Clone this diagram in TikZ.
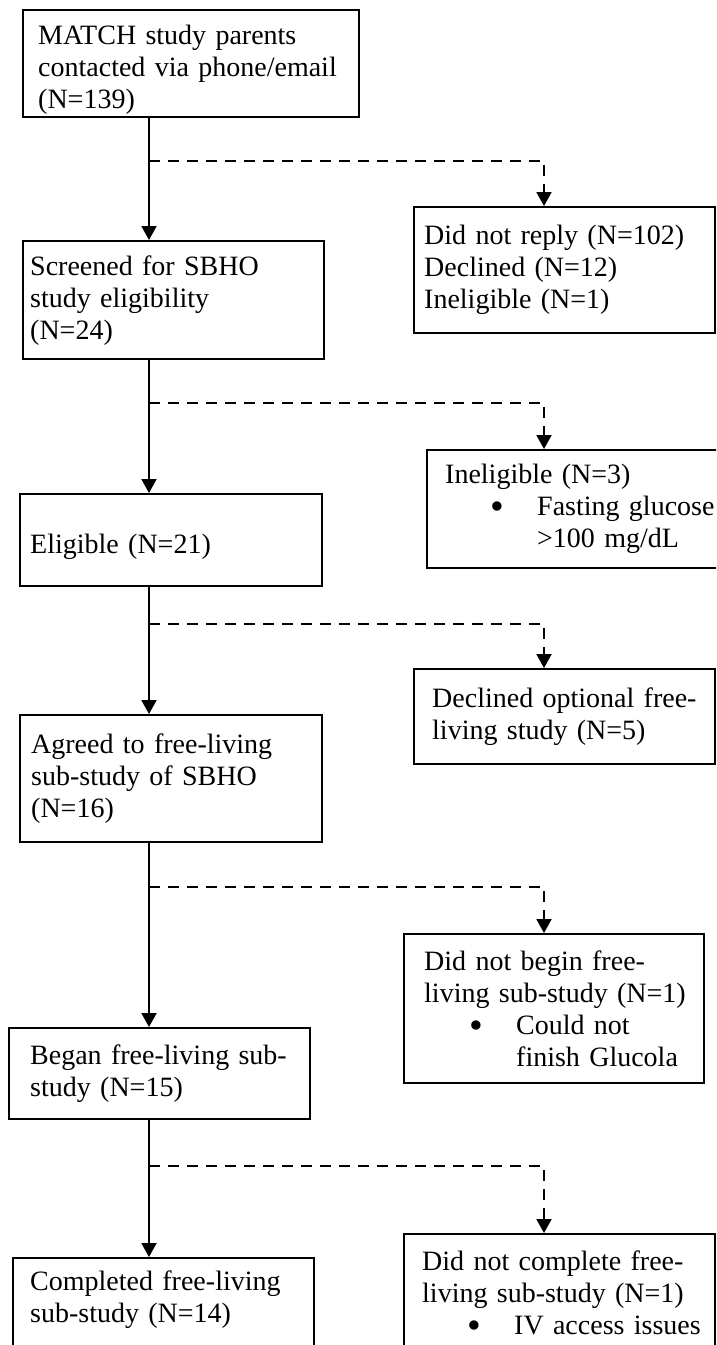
\documentclass[tikz,border=0pt]{standalone}
\usepackage{fontspec}
\setmainfont{Liberation Serif}
\usetikzlibrary{arrows.meta}
\newcommand{\bitem}[1]{\mbox{\makebox[92pt][l]{\hspace{45pt}\smash{\raisebox{-4pt}{\scalebox{1.4}{\textbullet}}}}#1}}
\newcommand{\bcont}[1]{\mbox{\hspace*{92pt}#1}}

\begin{document}
\begin{tikzpicture}[x=1pt,y=-1pt,
  box/.style={draw,line width=2.4pt,anchor=north west,align=left,inner ysep=2pt,font=\fontsize{28}{32}\selectfont},
  arr/.style={line width=2pt,-{Triangle[width=15pt,length=14pt]}},
  dasharr/.style={arr,dash pattern=on 11pt off 8pt}]
  \useasboundingbox (0,0) rectangle (716,1345);
  \fill[white] (0,0) rectangle (716,1345);
  \clip (0,0) rectangle (716,1345);

  \node[box,inner xsep=15pt,text width=306pt,minimum height=107pt] (contact) at (22,9) {\rule{0pt}{32pt}MATCH study parents\\contacted via phone/email\\(N=139)};
  \node[box,inner xsep=10pt,text width=281pt,minimum height=126pt] (noreply) at (413,206) {Did not reply (N=102)\\Declined (N=12)\\Ineligible (N=1)};
  \node[box,inner xsep=7pt,text width=287pt,minimum height=118pt] (screen) at (22,240) {Screened for SBHO\\study eligibility\\(N=24)};
  \node[box,inner xsep=18pt,text width=294pt,minimum height=118pt] (inelig) at (426,449) {Ineligible (N=3)\\\bitem{Fasting glucose}\\\bcont{>100 mg/dL}};
  \node[box,inner xsep=10pt,text width=282pt,minimum height=92pt] (elig) at (19,493) {\rule{0pt}{32pt}Eligible (N=21)};
  \node[box,inner xsep=18pt,text width=265pt,minimum height=95pt] (declined) at (413,668) {\mbox{Declined optional free-}\\living study (N=5)};
  \node[box,inner xsep=11pt,text width=280pt,minimum height=127pt] (agreed) at (19,714) {Agreed to free-living\\sub-study of SBHO\\(N=16)};
  \node[box,inner xsep=20pt,text width=260pt,minimum height=149pt] (nobegin) at (403,933) {Did not begin free-\\\mbox{living sub-study (N=1)}\\\bitem{Could not}\\\bcont{finish Glucola}};
  \node[box,inner xsep=21pt,text width=259pt,minimum height=91pt] (began) at (8,1027) {\mbox{Began free-living sub-}\\study (N=15)};
  \node[box,inner xsep=18pt,text width=275pt,minimum height=118pt] (nocomplete) at (403,1233) {\mbox{Did not complete free-}\\\mbox{living sub-study (N=1)}\\\bitem{IV access issues}};
  \node[box,inner xsep=17pt,text width=267pt,minimum height=123pt] (complete) at (12,1257) {Completed free-living\\sub-study (N=14)\\[14pt]\mbox{}};

  \coordinate (b1) at (149,161);  \coordinate (k1) at (544,161);
  \coordinate (b2) at (149,403);  \coordinate (k2) at (544,403);
  \coordinate (b3) at (149,624);  \coordinate (k3) at (544,624);
  \coordinate (b4) at (149,887);  \coordinate (k4) at (544,887);
  \coordinate (b5) at (149,1166); \coordinate (k5) at (544,1166);

  \draw[arr] (b1 |- contact.south) -- (b1 |- screen.north);
  \draw[dasharr] (b1) -- (k1) -- (k1 |- noreply.north);
  \draw[arr] (b2 |- screen.south) -- (b2 |- elig.north);
  \draw[dasharr] (b2) -- (k2) -- (k2 |- inelig.north);
  \draw[arr] (b3 |- elig.south) -- (b3 |- agreed.north);
  \draw[dasharr] (b3) -- (k3) -- (k3 |- declined.north);
  \draw[arr] (b4 |- agreed.south) -- (b4 |- began.north);
  \draw[dasharr] (b4) -- (k4) -- (k4 |- nobegin.north);
  \draw[arr] (b5 |- began.south) -- (b5 |- complete.north);
  \draw[dasharr] (b5) -- (k5) -- (k5 |- nocomplete.north);
\end{tikzpicture}
\end{document}
